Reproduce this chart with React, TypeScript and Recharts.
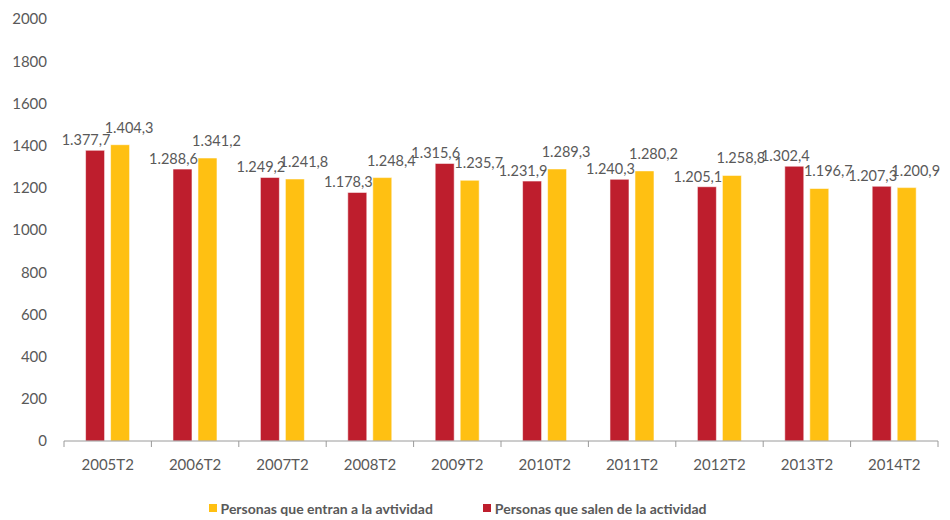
import React from 'react';
import { BarChart, Bar, XAxis, YAxis, Legend } from 'recharts';

const categories = ['2005T2', '2006T2', '2007T2', '2008T2', '2009T2', '2010T2', '2011T2', '2012T2', '2013T2', '2014T2'];
const salen = [1377.7, 1288.6, 1249.2, 1178.3, 1315.6, 1231.9, 1240.3, 1205.1, 1302.4, 1207.3];
const entran = [1404.3, 1341.2, 1241.8, 1248.4, 1235.7, 1289.3, 1280.2, 1258.8, 1196.7, 1200.9];
const yTicks = [0, 200, 400, 600, 800, 1000, 1200, 1400, 1600, 1800, 2000];

const SALEN_NAME = 'Personas que salen de la actividad';
const ENTRAN_NAME = 'Personas que entran a la avtividad';
const RED = '#BE1E2D';
const YELLOW = '#FFC012';
const TEXT = '#595959';
const AXIS = '#9a9a9a';
const FONT = 'Lato, "Open Sans", sans-serif';

const data = categories.map((c, i) => ({ cat: c, salen: salen[i], entran: entran[i] }));

const fmt = (v: any) => {
  const n = Number(v);
  const [intPart, dec] = n.toFixed(1).split('.');
  const grouped = intPart.replace(/\B(?=(\d{3})+(?!\d))/g, '.');
  return `${grouped},${dec}`;
};

const makeLabel = (dx: number, lift: number) => (props: any) => {
  const { x, y, width, value } = props;
  return (
    <text
      x={Number(x) + Number(width) / 2 + dx}
      y={Number(y) - lift}
      textAnchor="middle"
      fill={TEXT}
      fontSize={14.5}
      fontFamily={FONT}
    >
      {fmt(value)}
    </text>
  );
};

const XTick = (props: any) => {
  const { x, y, payload, index } = props;
  const off = payload && payload.offset != null ? payload.offset : 43.7;
  const last = index === categories.length - 1;
  return (
    <g>
      <line x1={x - off} x2={x - off} y1={y} y2={y + 6} stroke={AXIS} strokeWidth={1} />
      {last && <line x1={x + off} x2={x + off} y1={y} y2={y + 6} stroke={AXIS} strokeWidth={1} />}
      <text x={x} y={y + 24} dy="0.35em" textAnchor="middle" fill={TEXT} fontSize={15} fontFamily={FONT}>
        {payload.value}
      </text>
    </g>
  );
};

const LegendContent = () => {
  const items = [
    { name: ENTRAN_NAME, color: YELLOW },
    { name: SALEN_NAME, color: RED },
  ];
  return (
    <div style={{ height: 24, display: 'flex', justifyContent: 'center', alignItems: 'center', fontFamily: FONT }}>
      {items.map((it, i) => (
        <div key={it.name} style={{ display: 'flex', alignItems: 'center', marginLeft: i === 0 ? 0 : 50 }}>
          <span style={{ width: 8, height: 8, background: it.color, display: 'inline-block', marginRight: 4 }} />
          <span style={{ color: TEXT, fontWeight: 700, fontSize: 14 }}>{it.name}</span>
        </div>
      ))}
    </div>
  );
};

export default function App() {
  return (
    <div style={{ position: 'absolute', left: 0, top: 0, width: 950, height: 520, background: '#fff' }}>
      <BarChart
        width={950}
        height={520}
        data={data}
        margin={{ top: 19, right: 12, left: 0, bottom: 0 }}
        barCategoryGap="24.7%"
        barGap={6}
      >
        <XAxis
          dataKey="cat"
          axisLine={{ stroke: AXIS }}
          tickLine={false}
          tickSize={0}
          tickMargin={0}
          height={55}
          interval={0}
          tick={<XTick />}
        />
        <YAxis
          domain={[0, 2000]}
          ticks={yTicks}
          width={64}
          axisLine={false}
          tickLine={false}
          tickSize={0}
          tickMargin={17}
          tick={{ fill: TEXT, fontSize: 15, fontFamily: FONT }}
          interval={0}
        />
        <Legend
          verticalAlign="bottom"
          content={<LegendContent />}
          wrapperStyle={{ left: 0, width: 915, bottom: 0 }}
        />
        <Bar
          dataKey="salen"
          name={SALEN_NAME}
          fill={RED}
          stroke="rgba(255,255,255,0.55)"
          strokeWidth={1}
          isAnimationActive={false}
          label={makeLabel(-9, 5)}
        />
        <Bar
          dataKey="entran"
          name={ENTRAN_NAME}
          fill={YELLOW}
          stroke="rgba(255,255,255,0.55)"
          strokeWidth={1}
          isAnimationActive={false}
          label={makeLabel(9, 12)}
        />
      </BarChart>
    </div>
  );
}
